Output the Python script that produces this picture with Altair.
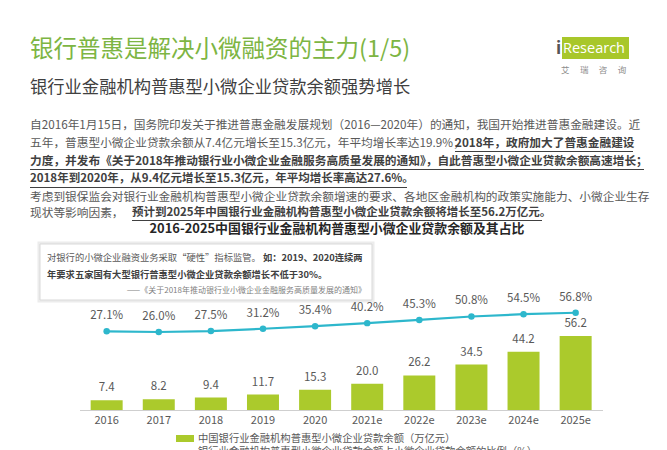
import altair as alt
import pandas as pd

FONT = "Noto Sans CJK SC"

years = ["2016", "2017", "2018", "2019", "2020", "2021e", "2022e", "2023e", "2024e", "2025e"]
balance = [7.4, 8.2, 9.4, 11.7, 15.3, 20.0, 26.2, 34.5, 44.2, 56.2]
share = [27.1, 26.0, 27.5, 31.2, 35.4, 40.2, 45.3, 50.8, 54.5, 56.8]

title_text = "银行普惠是解决小微融资的主力(1/5)"
subtitle_text = "银行业金融机构普惠型小微企业贷款余额强势增长"
para_l1 = "自2016年1月15日，国务院印发关于推进普惠金融发展规划（2016—2020年）的通知，我国开始推进普惠金融建设。近"
para_l2a = "五年，普惠型小微企业贷款余额从7.4亿元增长至15.3亿元，年平均增长率达19.9%；"
para_l2b = "2018年，政府加大了普惠金融建设"
para_l3 = "力度，并发布《关于2018年推动银行业小微企业金融服务高质量发展的通知》，自此普惠型小微企业贷款余额高速增长；"
para_l4 = "2018年到2020年，从9.4亿元增长至15.3亿元，年平均增长率高达27.6%。"
para_l5 = "考虑到银保监会对银行业金融机构普惠型小微企业贷款余额增速的要求、各地区金融机构的政策实施能力、小微企业生存"
para_l6a = "现状等影响因素，"
para_l6b = "预计到2025年中国银行业金融机构普惠型小微企业贷款余额将增长至56.2万亿元。"
chart_title = "2016-2025中国银行业金融机构普惠型小微企业贷款余额及其占比"
quote_l1a = "对银行的小微企业融资业务采取“硬性”指标监管。"
quote_l1b = "如：2019、2020连续两"
quote_l2 = "年要求五家国有大型银行普惠型小微企业贷款余额增长不低于30%。"
quote_l3 = "——《关于2018年推动银行业小微企业金融服务高质量发展的通知》"
legend_bar = "中国银行业金融机构普惠型小微企业贷款余额（万亿元）"
legend_line = "银行业金融机构普惠型小微企业贷款余额占小微企业贷款余额的比例（%）"
logo_main = "Research"
logo_i = "i"
logo_sub = "艾　 瑞　 咨　 询"

GREEN_T = "#7db543"
BAR = "#abca2c"
LINE = "#2db7cc"
DARK = "#404040"
GREY = "#595959"

O = 8  # page margin offset


def txt(s, x, y, size=12, color=GREY, weight="normal", align="left", font=FONT):
    return alt.Chart(pd.DataFrame({"t": [s]})).mark_text(
        align=align, baseline="middle", fontSize=size, fontWeight=weight,
        color=color, font=font,
    ).encode(text="t:N", x=alt.value(x - O), y=alt.value(y - O))


def rule(x1, x2, y, color=DARK, w=1):
    return alt.Chart(pd.DataFrame({"a": [0]})).mark_rule(color=color, strokeWidth=w).encode(
        x=alt.value(x1 - O), x2=alt.value(x2 - O), y=alt.value(y - O)
    )


def box(x1, x2, y1, y2, fill, stroke=None, sw=0):
    kw = dict(fill=fill)
    if stroke:
        kw.update(stroke=stroke, strokeWidth=sw)
    return alt.Chart(pd.DataFrame({"a": [0]})).mark_rect(**kw).encode(
        x=alt.value(x1 - O), x2=alt.value(x2 - O), y=alt.value(y1 - O), y2=alt.value(y2 - O)
    )


df = pd.DataFrame({"year": years, "balance": balance, "share": share})

xs = alt.Scale(domain=years, range=[80.6 - O, 601.7 - O], paddingInner=0.386, paddingOuter=0.193)
ys_bar = alt.Scale(domain=[0, 60], range=[410 - O, 410 - O - 79.1], nice=False, zero=True)
ys_line = alt.Scale(domain=[0, 100], range=[348.3 - O, 285.7 - O], nice=False, zero=True)

X = alt.X("year:N", scale=xs, axis=None, sort=years)
base = alt.Chart(df)
bars = base.mark_bar(color=BAR).encode(x=X, y=alt.Y("balance:Q", scale=ys_bar, axis=None))
bar_labels = base.mark_text(dy=-12, fontSize=11.5, color=GREY, font=FONT).encode(
    x=X, y=alt.Y("balance:Q", scale=ys_bar, axis=None),
    text=alt.Text("balance:Q", format=".1f"),
)
line = base.mark_line(color=LINE, strokeWidth=2.2).encode(
    x=X, y=alt.Y("share:Q", scale=ys_line, axis=None)
)
pts = base.mark_circle(color=LINE, size=42, opacity=1).encode(
    x=X, y=alt.Y("share:Q", scale=ys_line, axis=None)
)
line_labels = base.transform_calculate(lab="format(datum.share, '.1f') + '%'").mark_text(
    dy=-15, fontSize=11.5, color=GREY, font=FONT
).encode(x=X, y=alt.Y("share:Q", scale=ys_line, axis=None), text="lab:N")
year_labels = base.mark_text(fontSize=11, color=GREY, font=FONT, baseline="middle").encode(
    x=X, y=alt.value(421 - O), text="year:N"
)
axis_line = rule(80, 603, 410.5, color="#cfcfcf", w=1)

layers = [
    txt(title_text, 30, 50, size=23.5, color=GREEN_T),
    txt(subtitle_text, 30, 88, size=17.3, color=DARK),
    # logo
    box(562, 629, 37, 59, "#a8c72a"),
    txt(logo_i, 556, 49, size=17, color="#555555", font="Open Sans", weight="bold"),
    txt(logo_main, 563, 48.5, size=14.5, color="white", font="Open Sans"),
    txt(logo_sub, 561, 70, size=8.5, color="#8c8c8c"),
    # paragraph
    txt(para_l1, 30, 125, size=11.7),
    txt(para_l2a, 30, 143, size=11.7),
    txt(para_l2b, 455, 143, size=11.7, color=DARK, weight="bold"),
    txt(para_l3, 30, 161, size=11.7, color=DARK, weight="bold"),
    txt(para_l4, 30, 179, size=11.5, color=DARK, weight="bold"),
    txt(para_l5, 30, 197, size=11.7),
    txt(para_l6a, 30, 213, size=11.7),
    txt(para_l6b, 132, 213, size=11.5, color=DARK, weight="bold"),
    rule(455, 633, 151.5), rule(30, 644, 169.5), rule(30, 407, 187.5), rule(132, 542, 220.5),
    txt(chart_title, 337, 229, size=12.9, color="#262626", weight="bold", align="center"),
    # quote box
    box(39, 373, 243, 301, "white", "#ececec", 3),
    box(40, 372, 244, 300, "white", "#d9d9d9", 1),
    txt(quote_l1a, 47, 258, size=9.3),
    txt(quote_l1b, 263, 258, size=9.3, color=DARK, weight="bold"),
    txt(quote_l2, 47, 275, size=9.3, color=DARK, weight="bold"),
    txt(quote_l3, 366, 291, size=8, color="#7f7f7f", align="right"),
    axis_line, bars, bar_labels, line, pts, line_labels, year_labels,
    # legend
    box(176, 194, 435, 442, BAR),
    txt(legend_bar, 198, 438.5, size=10.3, color=GREY),
    rule(176, 194, 452, color=LINE, w=2),
    txt(legend_line, 198, 452, size=10.3, color=GREY),
]

chart = alt.layer(*layers).resolve_scale(y="independent").properties(
    width=651, height=442, autosize="none", padding=0, background="white"
).configure_view(stroke=None)

chart.save("out.html", embed_options={"renderer": "svg", "actions": False})
